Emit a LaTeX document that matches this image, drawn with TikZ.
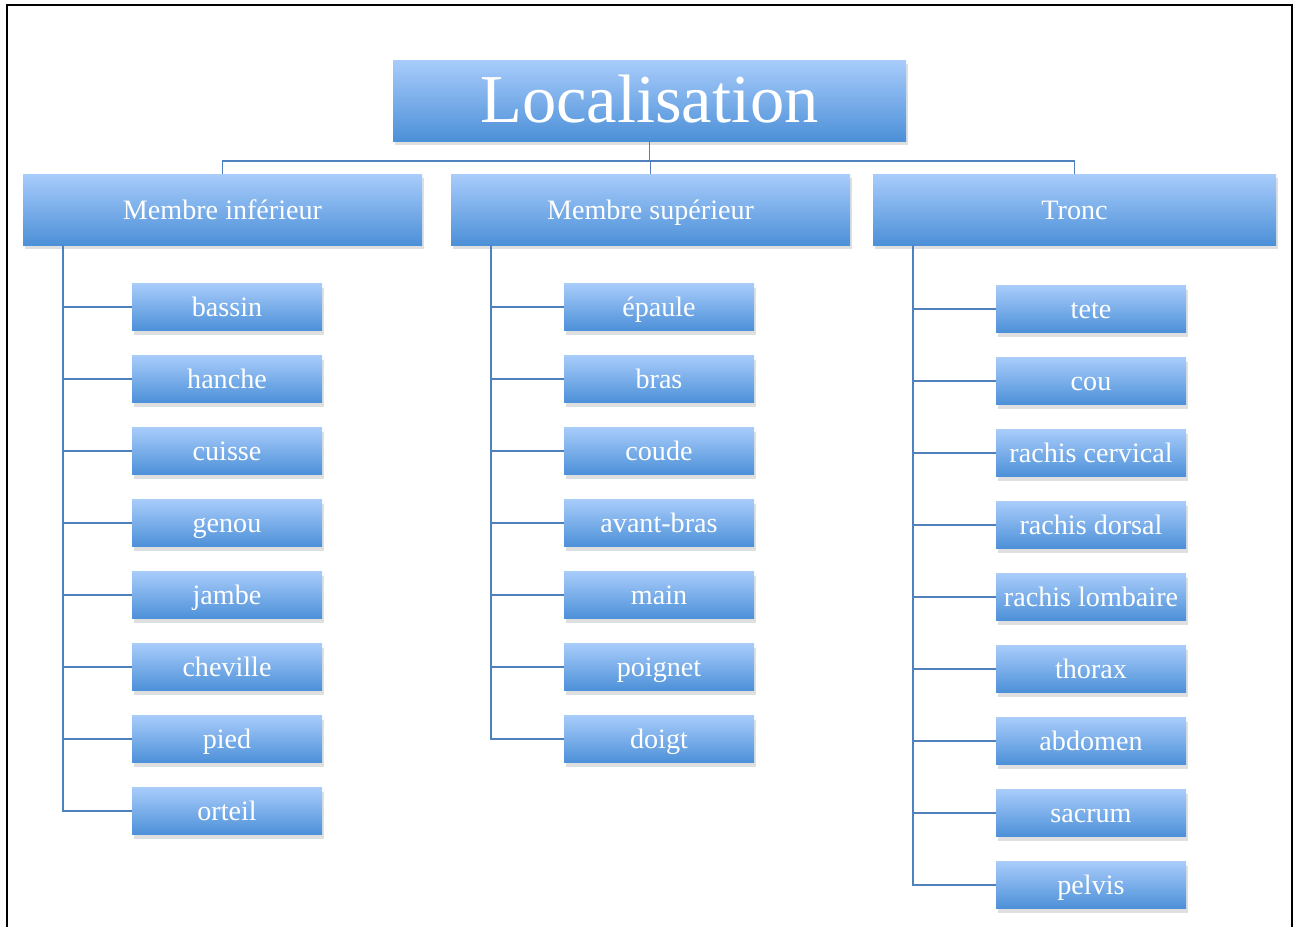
\documentclass[tikz,border=0pt]{standalone}
\usepackage{fontspec}
\setmainfont{Liberation Serif}
\usepackage{tikz}
\usetikzlibrary{positioning,shadows}
\usepackage{xcolor}
\definecolor{boxtop}{RGB}{168,204,251}
\definecolor{boxbot}{RGB}{76,144,216}
\definecolor{linkblue}{RGB}{79,129,189}

\begin{document}
\begin{tikzpicture}[
      box/.style={
        top color=boxtop, bottom color=boxbot, text=white,
        drop shadow={shadow xshift=1pt, shadow yshift=-2.5pt, opacity=0.25},
        align=center, inner sep=0pt, outer sep=0pt,
        text height=12.8pt, text depth=1.7pt
      },
      title/.style={box, minimum width=10.26cm, minimum height=1.62cm,
        font=\fontsize{39}{45}\selectfont, text height=29.5pt, text depth=4.5pt},
      group/.style={box, minimum width=7.98cm, minimum height=1.42cm,
        font=\fontsize{16}{19}\selectfont},
      leaf/.style={box, minimum width=3.8cm, minimum height=0.94cm,
        font=\fontsize{16}{19}\selectfont},
      link/.style={draw=linkblue, line width=1.1pt}
    ]
      \useasboundingbox (0,0) rectangle (25.96,-18.52);
      \draw[line width=1.3pt] (0.14,-18.8) -- (0.14,-0.1) -- (25.84,-0.1) -- (25.84,-18.8);

      % top and first level
      \node[title] (loc) at (12.99,-2.01) {Localisation};
      \node[group] (inf) at (4.45,-4.19) {Membre inférieur};
      \node[group] (sup) at (13.01,-4.19) {Membre supérieur};
      \node[group, minimum width=8.06cm] (tronc) at (21.49,-4.19) {Tronc};
      \coordinate (bus) at (12.99,-3.22);

      % membre inferieur
      \node[leaf] (bassin) at (4.54,-6.14) {bassin};
      \node[leaf, below=0.5cm of bassin] (hanche) {hanche};
      \node[leaf, below=0.5cm of hanche] (cuisse) {cuisse};
      \node[leaf, below=0.5cm of cuisse] (genou) {genou};
      \node[leaf, below=0.5cm of genou] (jambe) {jambe};
      \node[leaf, below=0.5cm of jambe] (cheville) {cheville};
      \node[leaf, below=0.5cm of cheville] (pied) {pied};
      \node[leaf, below=0.5cm of pied] (orteil) {orteil};

      % membre superieur
      \node[leaf] (epaule) at (13.18,-6.14) {épaule};
      \node[leaf, below=0.5cm of epaule] (bras) {bras};
      \node[leaf, below=0.5cm of bras] (coude) {coude};
      \node[leaf, below=0.5cm of coude] (avantbras) {avant-bras};
      \node[leaf, below=0.5cm of avantbras] (main) {main};
      \node[leaf, below=0.5cm of main] (poignet) {poignet};
      \node[leaf, below=0.5cm of poignet] (doigt) {doigt};

      % tronc
      \node[leaf] (tete) at (21.82,-6.18) {tete};
      \node[leaf, below=0.5cm of tete] (cou) {cou};
      \node[leaf, below=0.5cm of cou] (cervical) {rachis cervical};
      \node[leaf, below=0.5cm of cervical] (dorsal) {rachis dorsal};
      \node[leaf, below=0.5cm of dorsal] (lombaire) {rachis lombaire};
      \node[leaf, below=0.5cm of lombaire] (thorax) {thorax};
      \node[leaf, below=0.5cm of thorax] (abdomen) {abdomen};
      \node[leaf, below=0.5cm of abdomen] (sacrum) {sacrum};
      \node[leaf, below=0.5cm of sacrum] (pelvis) {pelvis};

      % connectors
      \draw[link] (loc.south) -- (loc.south |- bus);
      \draw[link] (inf.north) |- (bus) -| (tronc.north);
      \draw[link] (sup.north) -- (sup.north |- bus);
      \foreach \n in {bassin,hanche,cuisse,genou,jambe,cheville,pied,orteil}
        \draw[link] ([xshift=0.8cm]inf.south west) |- (\n.west);
      \foreach \n in {epaule,bras,coude,avantbras,main,poignet,doigt}
        \draw[link] ([xshift=0.8cm]sup.south west) |- (\n.west);
      \foreach \n in {tete,cou,cervical,dorsal,lombaire,thorax,abdomen,sacrum,pelvis}
        \draw[link] ([xshift=0.8cm]tronc.south west) |- (\n.west);
    \end{tikzpicture}
\end{document}
